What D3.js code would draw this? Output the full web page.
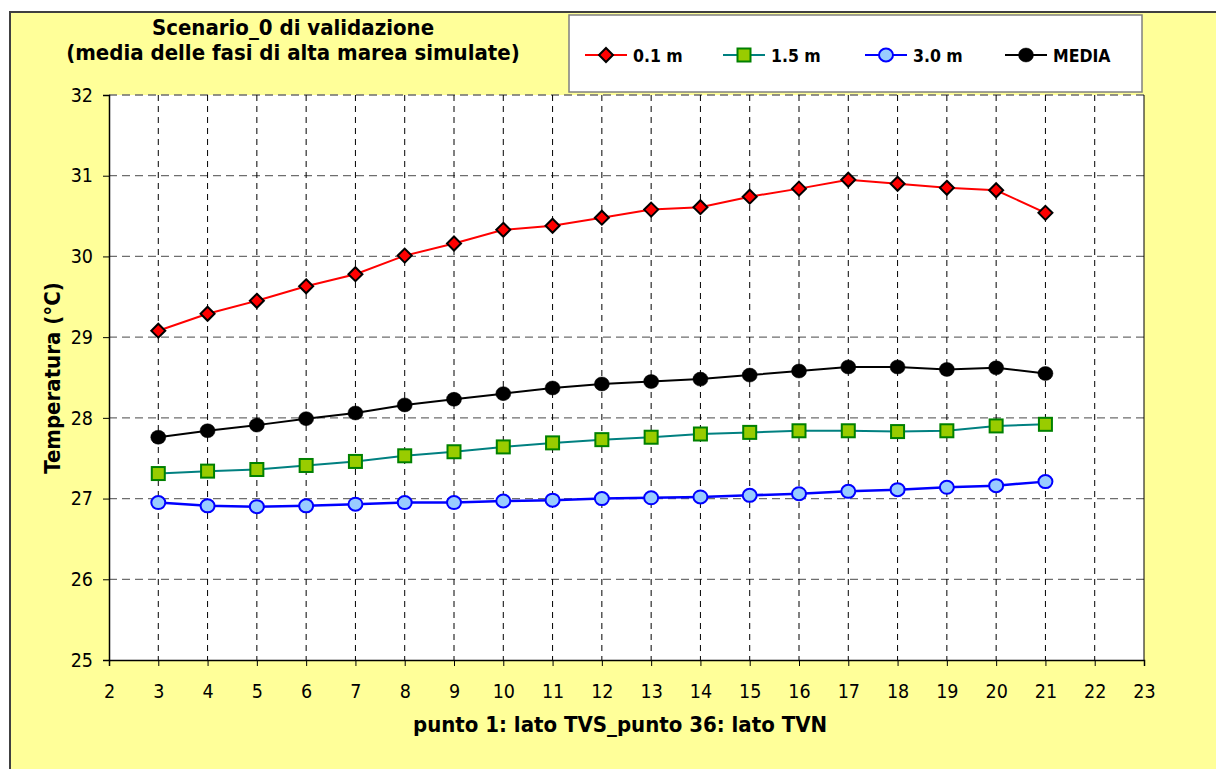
<!DOCTYPE html>
<html>
<head>
<meta charset="utf-8">
<script src="https://cdn.jsdelivr.net/npm/d3@7"></script>
<style>
  html, body { margin: 0; padding: 0; background: #ffffff; }
  svg { display: block; }
</style>
</head>
<body>
<svg id="chart" width="1216" height="769"></svg>
<script>
// ---- data ----
const points = [3,4,5,6,7,8,9,10,11,12,13,14,15,16,17,18,19,20,21];
const s01 = [29.08,29.29,29.45,29.63,29.78,30.01,30.16,30.33,30.38,30.48,30.58,30.61,30.74,30.84,30.95,30.90,30.85,30.82,30.54];
const s15 = [27.31,27.34,27.36,27.41,27.46,27.53,27.58,27.64,27.69,27.73,27.76,27.80,27.82,27.84,27.84,27.83,27.84,27.90,27.92];
const s30 = [26.95,26.91,26.90,26.91,26.93,26.95,26.95,26.97,26.98,27.00,27.01,27.02,27.04,27.06,27.09,27.11,27.14,27.16,27.21];
const media = [27.76,27.84,27.91,27.99,28.06,28.16,28.23,28.30,28.37,28.42,28.45,28.48,28.53,28.58,28.63,28.63,28.60,28.62,28.55];
const seriesNames = ["0.1 m","1.5 m","3.0 m","MEDIA"];
const xTicks = d3.range(2, 24);
const yTicks = [25,26,27,28,29,30,31,32];
const titleLines = ["Scenario_0 di validazione","(media delle fasi di alta marea simulate)"];
const xTitle = "punto 1: lato TVS_punto 36: lato TVN";
const yTitle = "Temperatura (°C)";

const FONT = "'DejaVu Sans Condensed', 'DejaVu Sans', Verdana, sans-serif";
const svg = d3.select("#chart");

// chart background
svg.append("rect").attr("x",10).attr("y",12).attr("width",1220).attr("height",770)
  .attr("fill","#FFFF99").attr("stroke","#404040").attr("stroke-width",2);

const L = 109, R = 1144, T = 95, B = 660;
const x = d3.scaleLinear().domain([2,23]).range([L,R]);
const y = d3.scaleLinear().domain([25,32]).range([B,T]);

// plot area
svg.append("rect").attr("x",L).attr("y",T).attr("width",R-L).attr("height",B-T).attr("fill","#ffffff");

// grid
const g = svg.append("g");
g.selectAll("line.hg").data(yTicks.filter(d=>d>25)).join("line")
  .attr("x1",L).attr("x2",R).attr("y1",d=>y(d)).attr("y2",d=>y(d))
  .attr("stroke","#6e6e6e").attr("stroke-width",1.3).attr("stroke-dasharray","8,5");
g.selectAll("line.vg").data(xTicks.filter(d=>d>2 && d<23)).join("line")
  .attr("x1",d=>x(d)).attr("x2",d=>x(d)).attr("y1",T).attr("y2",B)
  .attr("stroke","#000").attr("stroke-width",1).attr("stroke-dasharray","6,5");
// right border
svg.append("line").attr("x1",R).attr("x2",R).attr("y1",T).attr("y2",B).attr("stroke","#000").attr("stroke-width",1);

// axes
const yAxis = svg.append("g").attr("transform",`translate(${L},0)`)
  .call(d3.axisLeft(y).tickValues(yTicks).tickSize(6).tickPadding(10).tickFormat(d3.format("d")));
const xAxis = svg.append("g").attr("transform",`translate(0,${B})`)
  .call(d3.axisBottom(x).tickValues(xTicks).tickSize(6).tickPadding(18).tickFormat(d3.format("d")));
[yAxis,xAxis].forEach(a=>{
  a.attr("font-size",null).attr("font-family",null);
  a.select(".domain").attr("stroke","#000").attr("stroke-width",1.5);
  a.selectAll(".tick line").attr("stroke","#000");
  a.selectAll(".tick text").style("font-family",FONT).style("font-size","19.5px").attr("fill","#000");
});

// series
const series = [
  {name:seriesNames[0], vals:s01, line:"#FF0000", type:"diamond", fill:"#FF0000", stroke:"#000", lw:2},
  {name:seriesNames[1], vals:s15, line:"#008080", type:"square", fill:"#99CC00", stroke:"#008000", lw:2},
  {name:seriesNames[2], vals:s30, line:"#0000FF", type:"circle", fill:"#99CCFF", stroke:"#0000FF", lw:2.5},
  {name:seriesNames[3], vals:media, line:"#000000", type:"dot", fill:"#000", stroke:"#000", lw:2}
];

function drawMarker(sel, s, cx, cy){
  if (s.type==="diamond"){
    const r=7;
    sel.append("path").attr("d",`M${cx},${cy-r}L${cx+r},${cy}L${cx},${cy+r}L${cx-r},${cy}Z`)
      .attr("fill",s.fill).attr("stroke",s.stroke).attr("stroke-width",2);
  } else if (s.type==="square"){
    const h=6.5;
    sel.append("rect").attr("x",cx-h).attr("y",cy-h).attr("width",2*h).attr("height",2*h)
      .attr("fill",s.fill).attr("stroke",s.stroke).attr("stroke-width",2);
  } else if (s.type==="circle"){
    sel.append("ellipse").attr("cx",cx).attr("cy",cy).attr("rx",7).attr("ry",6.5)
      .attr("fill",s.fill).attr("stroke",s.stroke).attr("stroke-width",2);
  } else {
    sel.append("ellipse").attr("cx",cx).attr("cy",cy).attr("rx",7.5).attr("ry",7)
      .attr("fill",s.fill).attr("stroke",s.stroke).attr("stroke-width",0.5);
  }
}

const line = d3.line().x((d,i)=>x(points[i])).y(d=>y(d));
series.forEach(s=>{
  const gs = svg.append("g");
  gs.append("path").attr("d",line(s.vals)).attr("fill","none").attr("stroke",s.line).attr("stroke-width",s.lw);
  s.vals.forEach((v,i)=>drawMarker(gs, s, x(points[i]), y(v)));
});

// legend
svg.append("rect").attr("x",569).attr("y",15).attr("width",573).attr("height",77)
  .attr("fill","#fff").attr("stroke","#808080").attr("stroke-width",1.5);
const legX = [585, 723, 865, 1005];
series.forEach((s,i)=>{
  const lg = svg.append("g");
  const cy = 55;
  lg.append("line").attr("x1",legX[i]).attr("x2",legX[i]+42).attr("y1",cy).attr("y2",cy)
    .attr("stroke",s.line).attr("stroke-width",2);
  drawMarker(lg, s, legX[i]+21, cy);
  lg.append("text").attr("x",legX[i]+48).attr("y",cy+7).text(s.name)
    .attr("font-family",FONT).attr("font-weight","bold").attr("font-size",17.5).attr("fill","#000");
});

// titles
const tf = 22;
svg.append("text").attr("x",293).attr("y",35).attr("text-anchor","middle").text(titleLines[0])
  .attr("font-family",FONT).attr("font-weight","bold").attr("font-size",tf);
svg.append("text").attr("x",293).attr("y",60).attr("text-anchor","middle").text(titleLines[1])
  .attr("font-family",FONT).attr("font-weight","bold").attr("font-size",tf);
svg.append("text").attr("x",620).attr("y",732).attr("text-anchor","middle").text(xTitle)
  .attr("font-family",FONT).attr("font-weight","bold").attr("font-size",tf);
svg.append("text").attr("transform","translate(60,378) rotate(-90)").attr("text-anchor","middle").text(yTitle)
  .attr("font-family",FONT).attr("font-weight","bold").attr("font-size",tf);
</script>
</body>
</html>
